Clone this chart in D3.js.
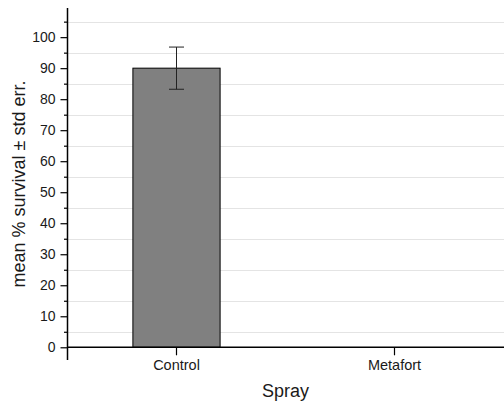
<!DOCTYPE html>
<html>
<head>
<meta charset="utf-8">
<script src="https://cdn.jsdelivr.net/npm/d3@7"></script>
<style>
  html, body { margin: 0; padding: 0; background: #fff; }
  svg { display: block; font-family: "Liberation Sans", Arial, sans-serif; }
</style>
</head>
<body>
<svg id="chart" width="504" height="407"></svg>
<script>
const categories = ["Control", "Metafort"];
const means = [90, 0];
const stdErr = [6.8, 0];
const majorTicks = [0, 10, 20, 30, 40, 50, 60, 70, 80, 90, 100];
const minorTicks = [5, 15, 25, 35, 45, 55, 65, 75, 85, 95, 105];
const xTitle = "Spray";
const yTitle = "mean % survival ± std err.";

(function () {
const data = categories.map((c, i) => ({ cat: c, mean: means[i], err: stdErr[i] }));

const svg = d3.select("#chart");
const pl = 67.5, pr = 503.5, pt = 8, pb = 360;

const x = d3.scaleBand().domain(categories).range([pl, pr]).paddingInner(0.6).paddingOuter(0.3);
const y = d3.scaleLinear().domain([-4.1, 109.4]).range([pb, pt]);

// grid (dotted, at minor positions)
svg.append("g").selectAll("line").data(minorTicks).join("line")
  .attr("x1", pl).attr("x2", 504)
  .attr("y1", d => Math.round(y(d)) + 0.5).attr("y2", d => Math.round(y(d)) + 0.5)
  .attr("stroke", "#c8c8c8").attr("stroke-width", 1).attr("stroke-dasharray", "1,1");

// bars
svg.append("g").selectAll("rect").data(data.filter(d => d.mean > 0)).join("rect")
  .attr("x", d => x(d.cat)).attr("width", x.bandwidth())
  .attr("y", d => y(d.mean)).attr("height", d => y(0) - y(d.mean))
  .attr("fill", "#808080").attr("stroke", "#000").attr("stroke-width", 1);

// error bars
const eb = svg.append("g").selectAll("g").data(data.filter(d => d.err > 0)).join("g")
  .attr("stroke", "#222").attr("stroke-width", 1);
const cx = d => x(d.cat) + x.bandwidth() / 2;
eb.append("line")
  .attr("x1", cx).attr("x2", cx)
  .attr("y1", d => y(d.mean + d.err)).attr("y2", d => y(d.mean - d.err));
eb.append("line")
  .attr("x1", d => cx(d) - 7.5).attr("x2", d => cx(d) + 7.5)
  .attr("y1", d => y(d.mean + d.err)).attr("y2", d => y(d.mean + d.err));
eb.append("line")
  .attr("x1", d => cx(d) - 7.5).attr("x2", d => cx(d) + 7.5)
  .attr("y1", d => y(d.mean - d.err)).attr("y2", d => y(d.mean - d.err));

// y axis
const yAxis = d3.axisLeft(y).tickValues(majorTicks).tickSize(7).tickPadding(5).tickFormat(d3.format("d"));
const gy = svg.append("g").attr("transform", `translate(${pl},0)`).call(yAxis);
gy.select(".domain").remove();
gy.selectAll(".tick line").attr("stroke", "#000").attr("stroke-width", 1.2);
gy.selectAll(".tick text").attr("font-size", 14).attr("fill", "#1a1a1a").attr("font-family", "Liberation Sans, Arial, sans-serif");
const yMinor = d3.axisLeft(y).tickValues(minorTicks).tickSize(3.5).tickFormat("");
const gym = svg.append("g").attr("transform", `translate(${pl},0)`).call(yMinor);
gym.select(".domain").remove();
gym.selectAll(".tick line").attr("stroke", "#000").attr("stroke-width", 1.2);
svg.append("line").attr("x1", pl).attr("x2", pl).attr("y1", pt).attr("y2", pb)
  .attr("stroke", "#000").attr("stroke-width", 1.5);

// x axis at y=0
const xAxis = d3.axisBottom(x).tickSize(8).tickPadding(4);
const gx = svg.append("g").attr("transform", `translate(0,${y(0)})`).call(xAxis);
gx.select(".domain").remove();
gx.selectAll(".tick line").attr("stroke", "#000").attr("stroke-width", 1.2);
gx.selectAll(".tick text").attr("font-size", 14.5).attr("fill", "#1a1a1a").attr("font-family", "Liberation Sans, Arial, sans-serif");
svg.append("line").attr("x1", pl).attr("x2", 504).attr("y1", y(0)).attr("y2", y(0))
  .attr("stroke", "#000").attr("stroke-width", 1.5);

// titles
svg.append("text").attr("x", (pl + pr) / 2).attr("y", 397)
  .attr("text-anchor", "middle").attr("font-size", 18).attr("fill", "#1a1a1a").text(xTitle);
svg.append("text").attr("transform", `translate(25,${(pt + pb) / 2}) rotate(-90)`)
  .attr("text-anchor", "middle").attr("font-size", 18).attr("fill", "#1a1a1a").text(yTitle);
})();
</script>
</body>
</html>
